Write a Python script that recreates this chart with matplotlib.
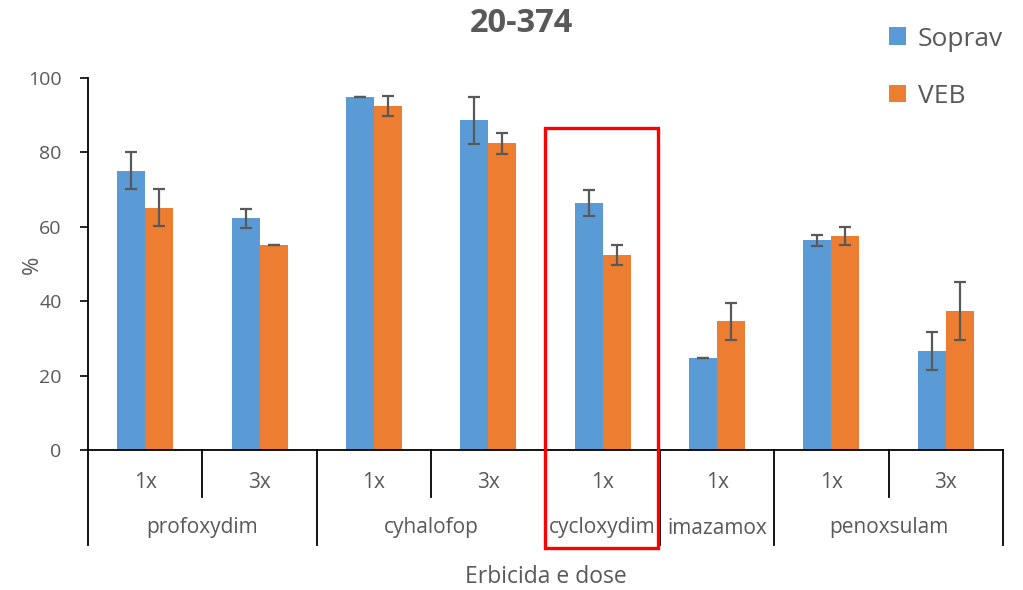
import matplotlib
matplotlib.use("Agg")
import matplotlib.pyplot as plt
import matplotlib.patches as mpatches
import matplotlib.transforms as mtransforms
import numpy as np

plt.rcParams['font.family'] = ['Open Sans', 'DejaVu Sans']

# ---- data ----
dose_labels = ["1x", "3x", "1x", "3x", "1x", "1x", "1x", "3x"]
group_names = ["profoxydim", "cyhalofop", "cycloxydim", "imazamox", "penoxsulam"]
group_sizes = [2, 2, 1, 1, 2]
soprav = [75.1, 62.3, 94.8, 88.6, 66.5, 24.7, 56.4, 26.6]
soprav_err = [5.0, 2.6, 0.0, 6.3, 3.5, 0.0, 1.5, 5.0]
veb = [65.1, 55.1, 92.5, 82.4, 52.3, 34.6, 57.5, 37.4]
veb_err = [5.0, 0.0, 2.7, 2.7, 2.7, 5.0, 2.5, 7.7]
series_names = ["Soprav", "VEB"]
yticks = [0, 20, 40, 60, 80, 100]

BLUE = "#5B9BD5"
ORANGE = "#ED7D31"
GRAY = "#595959"

W, H = 1023, 590
fig = plt.figure(figsize=(W / 100, H / 100), dpi=100)
ax = fig.add_axes([88 / W, 1 - 450 / H, (1003 - 88) / W, (450 - 78) / H])

x = np.arange(len(dose_labels))
bw = 0.245
err_kw = dict(ecolor=GRAY, elinewidth=1.6, capsize=4.3, capthick=1.6)
ax.bar(x - bw / 2, soprav, bw, color=BLUE, yerr=soprav_err, error_kw=err_kw,
       label=series_names[0], zorder=2)
ax.bar(x + bw / 2, veb, bw, color=ORANGE, yerr=veb_err, error_kw=err_kw,
       label=series_names[1], zorder=2)

ax.set_xlim(-0.5, len(dose_labels) - 0.5)
ax.set_ylim(0, 100)
ax.set_yticks(yticks)
ax.tick_params(axis='y', direction='out', length=6, width=1.2, color='black',
               labelcolor=GRAY, labelsize=14, pad=13)
ax.set_xticks([])
for s in ['top', 'right']:
    ax.spines[s].set_visible(False)
for s in ['left', 'bottom']:
    ax.spines[s].set_color('black')
    ax.spines[s].set_linewidth(1.3)

# hierarchical category axis
trans = mtransforms.blended_transform_factory(ax.transData, ax.transAxes)
short_y = -(497 - 450) / 372
long_y = -(545 - 450) / 372
for i, lab in enumerate(dose_labels):
    ax.text(i, -(482 - 450) / 372, lab, transform=trans, ha='center', va='center',
            fontsize=15, color=GRAY)
boundaries = [-0.5]
pos = -0.5
for gname, gs in zip(group_names, group_sizes):
    center = pos + gs / 2
    ax.text(center, -(528 - 450) / 372, gname, transform=trans, ha='center',
            va='center', fontsize=15, color=GRAY)
    for k in range(1, gs):
        xx = pos + k
        ax.plot([xx, xx], [0, short_y], transform=trans, color='black', lw=1.3,
                clip_on=False)
    pos += gs
    boundaries.append(pos)
for b in boundaries:
    ax.plot([b, b], [0, long_y], transform=trans, color='black', lw=1.3, clip_on=False)

ax.text(0.5, -(577 - 450) / 372, "Erbicida e dose", transform=ax.transAxes,
        ha='center', va='center', fontsize=16.5, color=GRAY)
fig.text(32 / W, 1 - 265 / H, "%", rotation=90, ha='center', va='center',
         fontsize=16, color=GRAY)
fig.text(521 / W, 1 - 23 / H, "20-374", ha='center', va='center', fontsize=23.5,
         fontweight='bold', color=GRAY)

leg = fig.legend(loc='upper left', bbox_to_anchor=(878 / W, 1 - 16 / H), frameon=False,
                 fontsize=19, handlelength=0.65, handleheight=0.65, handletextpad=0.45,
                 labelspacing=1.22, borderaxespad=0)
for t in leg.get_texts():
    t.set_color(GRAY)

# red highlight rectangle
rect = mpatches.Rectangle((545 / W, 1 - 548 / H), (658 - 545) / W, (548 - 128) / H,
                          transform=fig.transFigure, fill=False, edgecolor='#FF0000',
                          linewidth=2.4, zorder=10)
fig.patches.append(rect)

fig.savefig("out.png", dpi=100)
